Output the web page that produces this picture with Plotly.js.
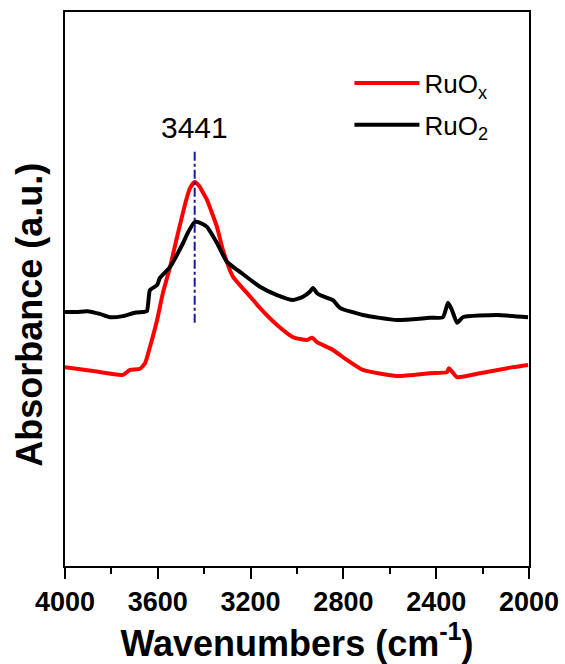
<!DOCTYPE html>
<html>
<head>
<meta charset="utf-8">
<script src="https://cdn.plot.ly/plotly-3.0.1.min.js"></script>
<style>html,body{margin:0;padding:0;background:#fff;}#chart{width:565px;height:664px;}</style>
</head>
<body>
<div id="chart"></div>
<script>
// RuO2 (black) spectrum: wavenumber (cm-1) and absorbance (a.u.)
var ruo2Wavenumber = [4000, 3950, 3905, 3850, 3806, 3750, 3700, 3664, 3647, 3640, 3634, 3603, 3591, 3547, 3491, 3470, 3441, 3415, 3388, 3345, 3302, 3246, 3160, 3086, 3017, 2974, 2945, 2931, 2915, 2901, 2845, 2815, 2716, 2569, 2427, 2371, 2349, 2332, 2310, 2285, 2138, 2004];
var ruo2Absorbance = [45.85, 45.85, 46.0, 45.5, 44.9, 45.1, 45.7, 45.85, 46.0, 48.0, 49.8, 50.7, 52.0, 54.0, 58.3, 60.2, 62.1, 61.9, 61.2, 58.3, 54.9, 53.1, 50.4, 48.9, 48.0, 48.6, 49.5, 50.2, 49.3, 48.9, 48.0, 46.6, 45.3, 44.4, 44.8, 44.9, 47.5, 46.2, 43.9, 44.9, 45.3, 44.9];

// RuOx (red) spectrum
var ruoxWavenumber = [4000, 3879, 3750, 3720, 3677, 3655, 3634, 3603, 3578, 3547, 3517, 3474, 3460, 3441, 3420, 3400, 3388, 3345, 3319, 3276, 3216, 3160, 3086, 3017, 2957, 2935, 2914, 2845, 2785, 2716, 2569, 2427, 2354, 2345, 2310, 2211, 2069, 2004];
var ruoxAbsorbance = [35.9, 35.2, 34.5, 35.4, 35.6, 36.6, 39.5, 44.4, 49.3, 54.0, 59.4, 66.6, 68.3, 69.3, 68.5, 67.0, 66.1, 61.2, 57.0, 52.2, 49.3, 46.6, 43.5, 41.3, 40.8, 41.2, 40.4, 39.0, 37.2, 35.4, 34.3, 34.8, 35.0, 35.7, 34.1, 34.8, 35.9, 36.3];

// Peak marker
var peakWavenumber = [3441, 3441];
var peakLineAbsorbance = [43.9, 75.1];
var peakLabel = "3441";
var peakLabelAbsorbance = 79.2;

// Axis ticks
var xTickValues = [4000, 3600, 3200, 2800, 2400, 2000];
var xTickLabels = ["4000", "3600", "3200", "2800", "2400", "2000"];

var seriesNames = ["RuO<sub>x</sub>", "RuO<sub>2</sub>"];

var fontFam = "Liberation Sans, Arial, sans-serif";

var traces = [
  {x: ruoxWavenumber, y: ruoxAbsorbance, type: "scatter", mode: "lines", name: seriesNames[0],
   legendgroup: "a", line: {color: "#ff0000", width: 4, shape: "spline", smoothing: 0.5}},
  {x: ruo2Wavenumber, y: ruo2Absorbance, type: "scatter", mode: "lines", name: seriesNames[1],
   legendgroup: "b", line: {color: "#000000", width: 4, shape: "spline", smoothing: 0.5}},
  {x: peakWavenumber, y: peakLineAbsorbance, type: "scatter", mode: "lines", showlegend: false,
   hoverinfo: "skip", line: {color: "#1a1a9c", width: 2, dash: "dashdot"}}
];

var layout = {
  width: 565, height: 664,
  margin: {l: 65, r: 36, t: 12, b: 98},
  paper_bgcolor: "#ffffff", plot_bgcolor: "#ffffff",
  showlegend: true,
  legend: {x: 0.613, y: 0.914, xanchor: "left", yanchor: "top", bgcolor: "rgba(0,0,0,0)",
    borderwidth: 0, itemwidth: 65, traceorder: "grouped", tracegroupgap: 5,
    font: {family: fontFam, size: 26, color: "#000"}},
  xaxis: {
    range: [4000, 2000], tickvals: xTickValues, ticktext: xTickLabels,
    showline: true, mirror: true, linecolor: "#000", linewidth: 2,
    ticks: "outside", ticklen: 11, tickwidth: 2, tickcolor: "#000",
    minor: {dtick: 200, tick0: 2000, ticks: "outside", ticklen: 6, tickwidth: 2, tickcolor: "#000"},
    showgrid: false, zeroline: false,
    tickfont: {family: fontFam, size: 27, color: "#000", weight: "bold"},
    title: {text: "Wavenumbers (cm<sup>-1</sup>)", standoff: 6,
      font: {family: fontFam, size: 36, color: "#000", weight: "bold"}}
  },
  yaxis: {
    range: [0, 100], showline: true, mirror: true, linecolor: "#000", linewidth: 2,
    ticks: "", showticklabels: false, showgrid: false, zeroline: false
  },
  annotations: [
    {xref: "x", yref: "y", x: peakWavenumber[0], y: peakLabelAbsorbance, text: peakLabel,
     showarrow: false, font: {family: fontFam, size: 30, color: "#000"}},
    {xref: "paper", yref: "paper", x: -0.078, y: 0.453, xanchor: "center", yanchor: "middle",
     text: "Absorbance (a.u.)", textangle: -90,
     showarrow: false, font: {family: fontFam, size: 36, color: "#000", weight: "bold"}}
  ]
};

Plotly.newPlot("chart", traces, layout, {displayModeBar: false, staticPlot: true});
</script>
</body>
</html>
